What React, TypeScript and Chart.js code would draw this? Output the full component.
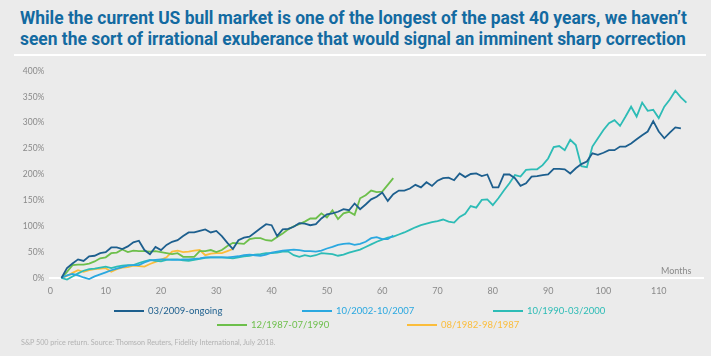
import React, { useEffect, useLayoutEffect, useRef } from 'react';
import { Chart, registerables } from 'chart.js';

Chart.register(...registerables);

// ---- data (cumulative S&P 500 price return, %, by month of the bull market) ----
const START_MONTH = 2;
const X_TICK_STEP = 10;
const Y_TICK_STEP = 50;

const seriesNames = ['03/2009-ongoing', '10/2002-10/2007', '10/1990-03/2000', '12/1987-07/1990', '08/1982-98/1987'];
const seriesColors = ['#1d5f8e', '#2aa8e0', '#2dbcb6', '#6dbf4b', '#fbbd3b'];

const bull2009 = [
  0, 19, 28, 36, 33, 42, 43, 48, 50, 59, 59, 56, 61, 69, 72, 54, 46, 60, 54, 64,
  70, 73, 81, 88, 88, 91, 94, 88, 91, 81, 68, 56, 73, 78, 80, 88, 96, 104, 102, 81,
  94, 95, 99, 106, 105, 102, 104, 115, 123, 125, 128, 133, 131, 144, 133, 142, 152, 157, 165, 149,
  162, 169, 169, 173, 180, 175, 185, 178, 188, 193, 194, 189, 202, 195, 201, 202, 197, 200, 175, 175,
  200, 200, 193, 178, 183, 196, 197, 199, 200, 211, 211, 210, 202, 212, 220, 225, 241, 238, 242, 247,
  247, 254, 254, 260, 268, 276, 283, 303, 283, 270, 281, 291, 289,
];

const bull2002 = [
  0, 5, 8, 5, 1, -2, 3, 7, 11, 15, 18, 21, 24, 25, 25, 30, 34, 35, 36, 36,
  35, 35, 36, 36, 37, 38, 40, 40, 40, 40, 40, 41, 42, 44, 45, 44, 43, 45, 49, 51,
  53, 54, 55, 54, 52, 52, 51, 53, 57, 60, 64, 66, 67, 64, 66, 70, 77, 79, 75, 75,
  82,
];

const bull1990 = [
  0, -3, 3, 9, 14, 17, 18, 20, 22, 19, 22, 24, 25, 25, 29, 32, 35, 33, 32, 35,
  36, 36, 34, 33, 35, 37, 39, 40, 40, 40, 39, 38, 40, 42, 43, 45, 46, 48, 48, 49,
  51, 51, 44, 41, 44, 42, 44, 48, 47, 46, 43, 45, 49, 52, 55, 60, 65, 70, 74, 78,
  80, 84, 88, 93, 98, 102, 105, 108, 110, 113, 109, 107, 118, 124, 139, 136, 151, 152, 141, 154,
  169, 183, 199, 196, 209, 210, 210, 218, 231, 253, 255, 247, 267, 257, 216, 214, 254, 270, 286, 299,
  305, 294, 312, 331, 312, 339, 323, 325, 309, 331, 345, 362, 349, 339,
];

const bull1987 = [
  0, 12, 25, 26, 26, 28, 32, 38, 40, 48, 49, 55, 50, 53, 52, 52, 51, 52, 50, 48,
  46, 48, 41, 41, 41, 52, 52, 54, 50, 54, 62, 68, 67, 66, 75, 77, 77, 73, 72, 79,
  86, 94, 100, 104, 109, 115, 115, 125, 117, 131, 114, 125, 128, 122, 154, 160, 169, 166, 167, 180,
  193,
];

const bull1982 = [
  0, 4, 10, 15, 12, 15, 17, 18, 19, 12, 17, 20, 21, 24, 23, 22, 27, 31, 35, 40,
  51, 53, 50, 51, 53, 54, 44, 47, 48, 48, 52, 56,
];

const seriesValues = [bull2009, bull2002, bull1990, bull1987, bull1982];

const TITLE_LINES = [
  'While the current US bull market is one of the longest of the past 40 years, we haven\u2019t',
  'seen the sort of irrational exuberance that would signal an imminent sharp correction',
];
const FOOTNOTE = 'S&P 500 price return. Source: Thomson Reuters, Fidelity International, July 2018.';
const X_AXIS_NAME = 'Months';

// ---- layout / style (not data) ----
const W = 711;
const H = 356;
const BG = '#ebebeb';
const AXIS_TEXT = '#8a8a8a';
const TITLE_WIDTH = 667;
const LEGEND_POS: Array<[number, number]> = [
  [114, 311], [302, 311], [493, 311], [217, 325], [407, 325],
];

export default function App() {
  const canvasRef = useRef<HTMLCanvasElement | null>(null);
  const titleRef = useRef<HTMLDivElement | null>(null);

  useLayoutEffect(() => {
    const el = titleRef.current;
    if (!el) return;
    const fit = () => {
      el.style.transform = 'none';
      const first = el.firstElementChild as HTMLElement | null;
      if (!first) return;
      const w = first.getBoundingClientRect().width;
      if (w > 0) el.style.transform = `scaleX(${TITLE_WIDTH / w})`;
    };
    fit();
    (document as any).fonts?.ready?.then(fit);
  }, []);

  useEffect(() => {
    document.body.style.margin = '0';
    document.body.style.background = BG;
    const canvas = canvasRef.current;
    if (!canvas) return;
    const chart = new Chart(canvas, {
      type: 'line',
      data: {
        datasets: seriesValues.map((vals, k) => ({
          label: seriesNames[k],
          data: vals.map((v, i) => ({ x: START_MONTH + i, y: v })),
          borderColor: seriesColors[k],
          backgroundColor: seriesColors[k],
          borderWidth: 1.8,
          pointRadius: 0,
          tension: 0,
          clip: false as any,
        })),
      },
      options: {
        responsive: false,
        animation: false,
        events: [],
        layout: { padding: { left: 8.4, top: 71, right: 8, bottom: 53 } },
        plugins: {
          legend: { display: false },
          tooltip: { enabled: false },
          title: { display: false },
        },
        scales: {
          x: {
            type: 'linear',
            min: 0,
            max: 118,
            ticks: {
              stepSize: X_TICK_STEP,
              includeBounds: false,
              autoSkip: false,
              maxRotation: 0,
              color: AXIS_TEXT,
              font: { family: 'Lato', size: 9 },
              padding: 8,
              callback: (v: any) => String(v),
            },
            grid: { display: false, drawTicks: false },
            border: { display: true, color: '#ffffff', width: 2 },
            afterFit: (s: any) => { s.height = 25; },
          },
          y: {
            min: 0,
            max: 400,
            ticks: {
              stepSize: Y_TICK_STEP,
              color: AXIS_TEXT,
              font: { family: 'Lato', size: 8.5 },
              padding: 6,
              callback: (v: any) => v + '%',
            },
            grid: { display: false, drawTicks: false },
            border: { display: false },
            afterFit: (s: any) => { s.width = 42; },
          },
        },
      },
    });
    (document as any).fonts?.ready?.then(() => { try { chart.update(); } catch (e) {} });
    return () => chart.destroy();
  }, []);

  return (
    <div style={{ position: 'fixed', left: 0, top: 0, width: W, height: H, background: BG, overflow: 'hidden', fontFamily: 'Lato, sans-serif' }}>
      <div ref={titleRef} style={{
        position: 'absolute', left: 20, top: 8, whiteSpace: 'nowrap', transformOrigin: '0 0',
        fontFamily: "Roboto, 'Noto Sans', sans-serif",
        fontWeight: 700, fontSize: 17.5, lineHeight: '21px', color: '#136aa1',
      }}>
        {TITLE_LINES.map((t, i) => <div key={i}><span>{t}</span></div>)}
      </div>
      <div style={{ position: 'absolute', left: 14, top: 54, width: 692, height: 1.5, background: '#ffffff' }} />
      <canvas ref={canvasRef} width={W} height={H} style={{ position: 'absolute', left: 0, top: 0, width: W, height: H }} />
      <div style={{ position: 'absolute', left: 661, top: 265, fontSize: 9, color: AXIS_TEXT, lineHeight: '12px' }}>{X_AXIS_NAME}</div>
      {seriesNames.map((name, k) => (
        <div key={name} style={{ position: 'absolute', left: LEGEND_POS[k][0], top: LEGEND_POS[k][1] - 6, height: 12, display: 'flex', alignItems: 'center', whiteSpace: 'nowrap' }}>
          <span style={{ display: 'inline-block', width: 30, height: 2, background: seriesColors[k], marginRight: 4 }} />
          <span style={{ fontSize: 9.5, color: seriesColors[k], lineHeight: '12px' }}>{name}</span>
        </div>
      ))}
      <div style={{ position: 'absolute', left: 21, top: 338, fontSize: 7.2, color: '#b2b2b2', lineHeight: '10px', whiteSpace: 'nowrap' }}>{FOOTNOTE}</div>
    </div>
  );
}
